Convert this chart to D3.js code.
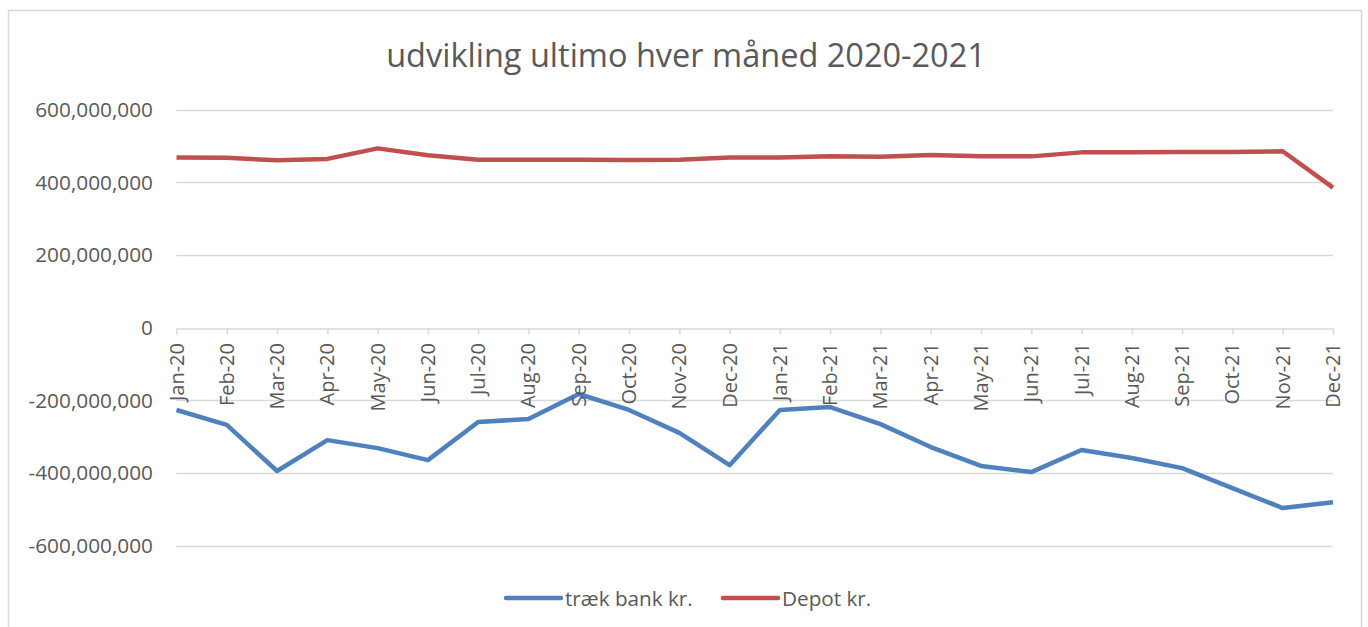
<!DOCTYPE html>
<html>
<head>
<meta charset="utf-8">
<script src="https://cdn.jsdelivr.net/npm/d3@7"></script>
<style>
  body { margin: 0; background: #fff; }
  text { font-family: "Open Sans", sans-serif; fill: #595959; }
</style>
</head>
<body>
<div id="chart"></div>
<script>
var months = ["Jan-20","Feb-20","Mar-20","Apr-20","May-20","Jun-20","Jul-20","Aug-20","Sep-20","Oct-20","Nov-20","Dec-20",
              "Jan-21","Feb-21","Mar-21","Apr-21","May-21","Jun-21","Jul-21","Aug-21","Sep-21","Oct-21","Nov-21","Dec-21"];

// træk bank kr.
var traekBank = [-227e6,-268e6,-395e6,-310e6,-332e6,-365e6,-260e6,-252e6,-183e6,-227e6,-290e6,-379e6,
                 -227e6,-219e6,-266e6,-329e6,-381e6,-398e6,-337e6,-359e6,-387e6,-442e6,-497e6,-481e6];

// Depot kr.
var depot = [468e6,467e6,460e6,464e6,493e6,474e6,462e6,462e6,462e6,461e6,462e6,468e6,
             468e6,471e6,470e6,475e6,471e6,471e6,482e6,482e6,483e6,483e6,485e6,385e6];

var yTicks = [-600e6,-400e6,-200e6,0,200e6,400e6,600e6];

var svgWidth = 1368;
var svgHeight = 627;

var svg = d3.select("#chart")
  .append("svg")
  .attr("width", svgWidth)
  .attr("height", svgHeight);

// chart area border
svg.append("rect")
  .attr("x", 8.5).attr("y", 10.5)
  .attr("width", 1353).attr("height", 640)
  .attr("fill", "none")
  .attr("stroke", "#d9d9d9")
  .attr("stroke-width", 1.5);

svg.append("text")
  .attr("x", 686).attr("y", 67)
  .attr("text-anchor", "middle")
  .style("font-size", "32.5px")
  .text("udvikling ultimo hver måned 2020-2021");

var x = d3.scalePoint()
  .domain(months)
  .range([176.5, 1333]);

var y = d3.scaleLinear()
  .domain([-600e6, 600e6])
  .range([545.5, 109.5]);

// gridlines
svg.append("g")
  .selectAll("line")
  .data(yTicks.filter(d => d !== 0))
  .enter()
  .append("line")
  .attr("x1", 176.5).attr("x2", 1333)
  .attr("y1", d => Math.round(y(d)) + 0.5)
  .attr("y2", d => Math.round(y(d)) + 0.5)
  .attr("stroke", "#d9d9d9")
  .attr("stroke-width", 1.5);

// y axis labels
var fmt = d3.format(",");
svg.append("g")
  .selectAll("text")
  .data(yTicks)
  .enter()
  .append("text")
  .attr("x", 153)
  .attr("y", d => y(d) + 7.5)
  .attr("text-anchor", "end")
  .style("font-size", "20.8px")
  .text(d => d < 0 ? "-" + fmt(-d) : fmt(d));

// zero axis with ticks
var xAxis = svg.append("g")
  .attr("transform", `translate(0,${Math.round(y(0)) + 0.5})`)
  .call(d3.axisBottom(x).tickSize(6).tickSizeOuter(0).tickFormat(""));
xAxis.select(".domain").attr("stroke", "#d9d9d9").attr("stroke-width", 1.5);
xAxis.selectAll(".tick line").attr("stroke", "#d9d9d9").attr("stroke-width", 1.5);

// series
var line = d3.line()
  .x((d, i) => x(months[i]))
  .y(d => y(d));

svg.append("path")
  .datum(traekBank)
  .attr("d", line)
  .attr("fill", "none")
  .attr("stroke", "#4f81bd")
  .attr("stroke-width", 4.5)
  .attr("stroke-linejoin", "round");

svg.append("path")
  .datum(depot)
  .attr("d", line)
  .attr("fill", "none")
  .attr("stroke", "#c0504d")
  .attr("stroke-width", 4.5)
  .attr("stroke-linejoin", "round");

// category labels
svg.append("g")
  .selectAll("text")
  .data(months)
  .enter()
  .append("text")
  .attr("transform", d => `translate(${x(d) + 7},343) rotate(-90)`)
  .attr("text-anchor", "end")
  .style("font-size", "20px")
  .text(d => d);

// legend
var legend = [
  { name: "træk bank kr.", color: "#4f81bd", x: 506 },
  { name: "Depot kr.", color: "#c0504d", x: 723 }
];
var lg = svg.append("g");
legend.forEach(function (d) {
  lg.append("line")
    .attr("x1", d.x).attr("x2", d.x + 55)
    .attr("y1", 598).attr("y2", 598)
    .attr("stroke", d.color)
    .attr("stroke-width", 4.5)
    .attr("stroke-linecap", "round");
  lg.append("text")
    .attr("x", d.x + 59).attr("y", 605.5)
    .style("font-size", "20.7px")
    .text(d.name);
});
</script>
</body>
</html>
